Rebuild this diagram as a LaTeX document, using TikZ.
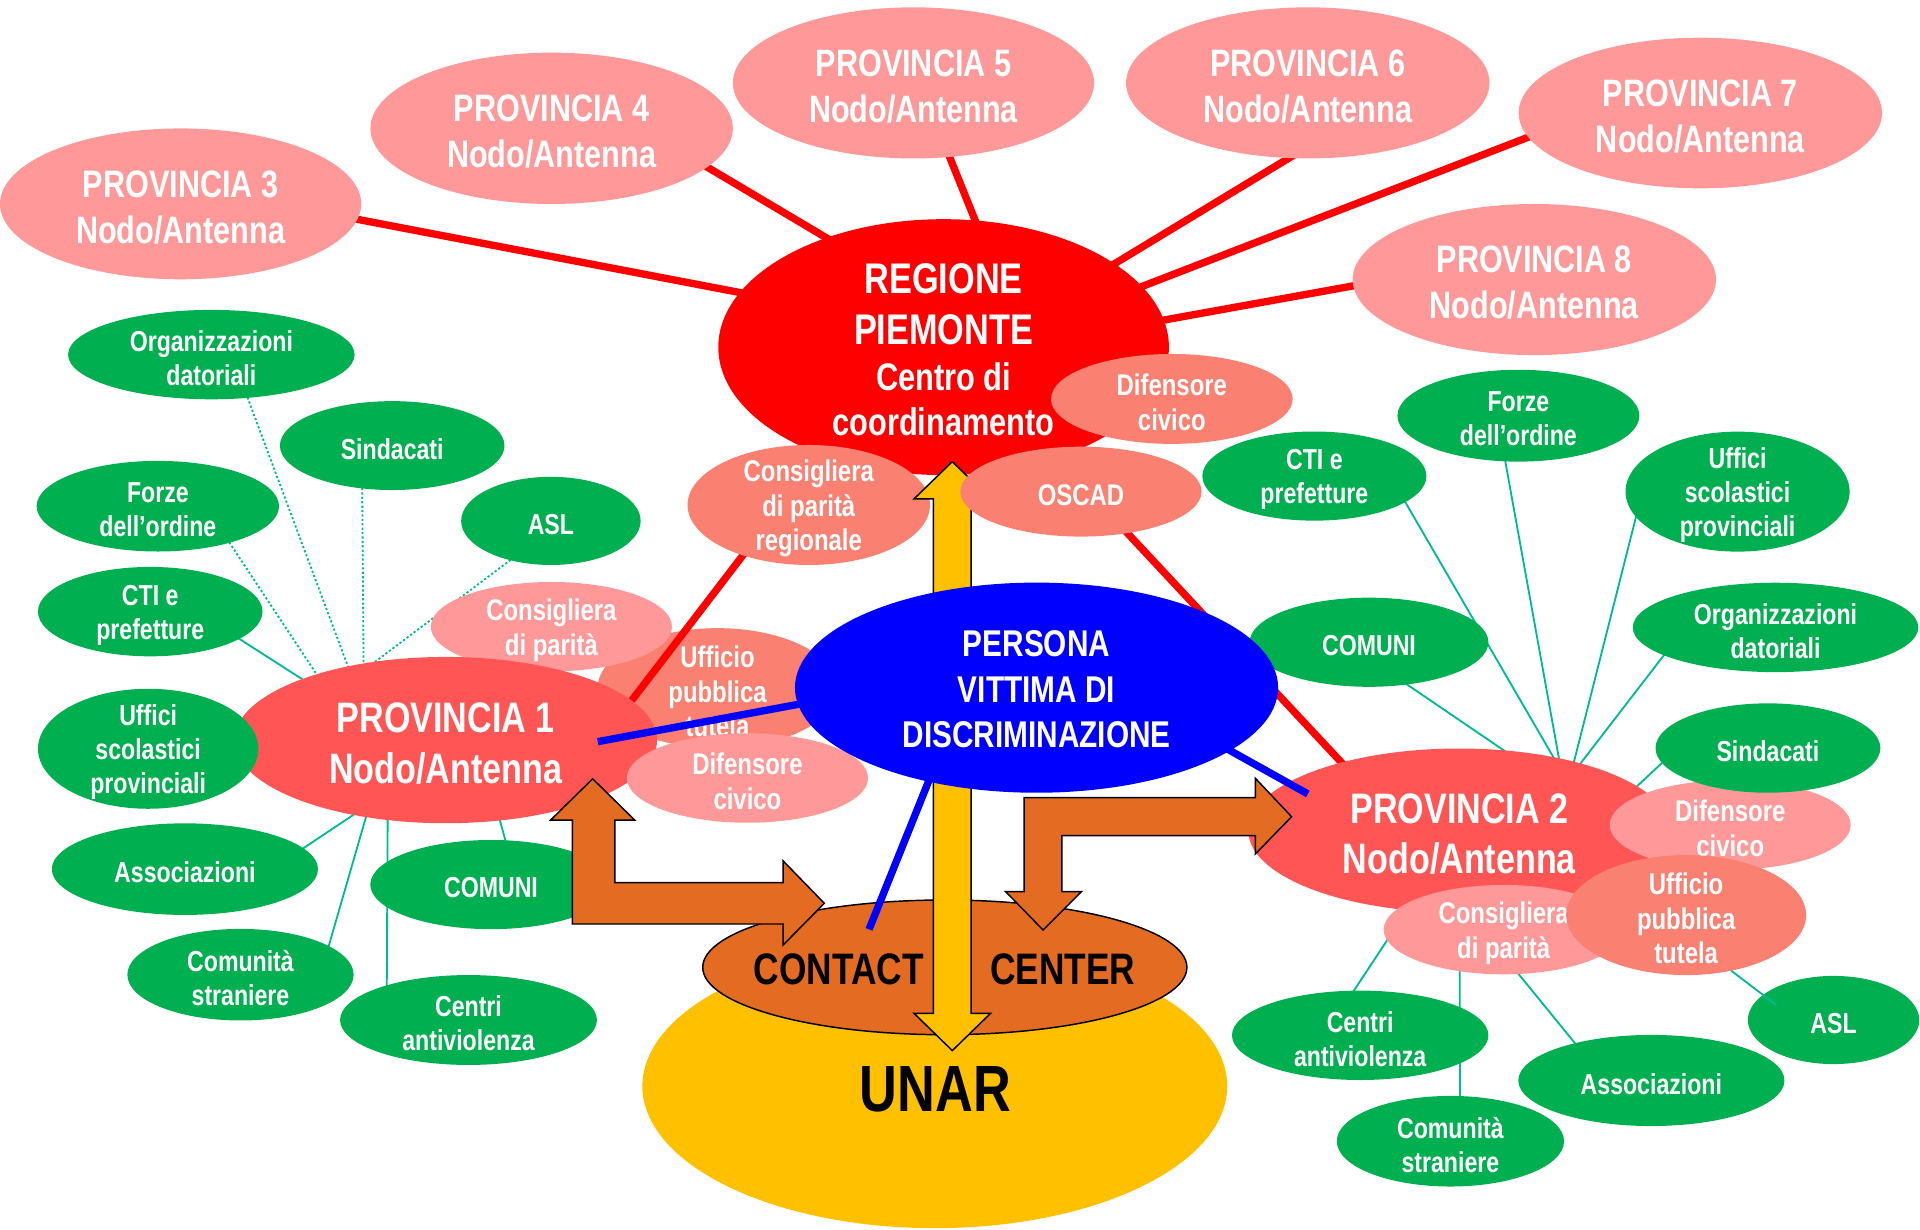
\documentclass[tikz,border=0pt]{standalone}
\usepackage{fontspec}
\newfontfamily\nf{Liberation Sans}[FakeStretch=0.8]
\usetikzlibrary{shapes.geometric,calc}
\pgfdeclarelayer{bottom}
\pgfdeclarelayer{back}
\pgfdeclarelayer{top}
\pgfsetlayers{bottom,back,main,top}
\definecolor{pk}{RGB}{255,153,153}
\definecolor{sa}{RGB}{250,128,114}
\definecolor{gn}{RGB}{0,176,80}
\definecolor{pr}{RGB}{255,85,85}
\definecolor{rg}{RGB}{255,0,0}
\definecolor{bl}{RGB}{0,0,255}
\definecolor{yl}{RGB}{255,192,0}
\definecolor{og}{RGB}{227,107,34}
\definecolor{tl}{RGB}{0,185,150}
\newcommand\fz[2]{\fontsize{#1}{#2}\selectfont}
\newcommand\FProv{\nf\bfseries\fz{15.6}{18.8}}
\newcommand\FBig{\nf\bfseries\fz{17.4}{20.7}}
\newcommand\FGr{\nf\bfseries\fz{11.8}{13.9}}
\newcommand\FSm{\nf\bfseries\fz{12.2}{14.1}}
\newcommand\ovn[8]{%
  \node[ov,#1,minimum width=#5pt,minimum height=#6pt] (#2) at (#3,#4) {};
  \node[lab,font=#7,yshift=-1.4pt] at (#2.center) {#8};}
\tikzset{
  ov/.style={ellipse,inner sep=0pt,outer sep=0pt},
  lab/.style={text=white,align=center,inner sep=0pt},
  pkf/.style={fill=pk}, saf/.style={fill=sa}, gnf/.style={fill=gn}, prf/.style={fill=pr},
  redline/.style={draw=rg,line width=3pt,shorten <=-5pt,shorten >=-5pt},
  blueline/.style={draw=bl,line width=3pt,shorten <=-5pt},
  gline/.style={draw=tl,line width=0.75pt,shorten <=-2pt,shorten >=-2pt},
  gdot/.style={gline,dash pattern=on 0.9pt off 0.9pt},
  blockarrow/.style={draw=black,line width=0.6pt,line join=miter},
}
\begin{document}
\begin{tikzpicture}[x=0.5pt,y=-0.5pt]
\useasboundingbox (0,0) rectangle (1568,1004);

% bottom-most: Ufficio pubblica tutela (P1 group)
\begin{pgfonlayer}{bottom}
\ovn{saf}{uptL}{586}{562}{98}{49}{\FSm}{Ufficio\\pubblica\\tutela}
\end{pgfonlayer}

% provinces 3..8
\ovn{pkf}{p3}{147.5}{166.5}{147.5}{61.6}{\FProv}{PROVINCIA 3\\Nodo/Antenna}
\ovn{pkf}{p4}{450.5}{104.8}{148}{61.8}{\FProv}{PROVINCIA 4\\Nodo/Antenna}
\ovn{pkf}{p5}{746}{67.7}{147.5}{61.7}{\FProv}{PROVINCIA 5\\Nodo/Antenna}
\ovn{pkf}{p6}{1068}{67.7}{148.4}{61.7}{\FProv}{PROVINCIA 6\\Nodo/Antenna}
\ovn{pkf}{p7}{1388.6}{92.3}{148.4}{61.5}{\FProv}{PROVINCIA 7\\Nodo/Antenna}
\ovn{pkf}{p8}{1253}{228.3}{148.4}{61.7}{\FProv}{PROVINCIA 8\\Nodo/Antenna}

% Regione
\node[ov,fill=rg,minimum width=184pt,minimum height=104.5pt] (reg) at (770.6,283.5) {};
\node[lab,font=\nf\bfseries\fz{17.5}{21}] (regt1) at (770.6,248.5) {REGIONE\\PIEMONTE};
\node[lab,font=\nf\bfseries\fz{15.7}{18.4}] (regt2) at (770.6,326) {Centro di\\coordinamento};
\ovn{saf}{difreg}{957}{325.8}{98.7}{36.7}{\FSm}{Difensore\\civico}
\ovn{saf}{consreg}{660.5}{412.4}{99}{49}{\FSm}{Consigliera\\di parità\\regionale}

% UNAR and contact center
\node[ov,fill=yl,minimum width=238.8pt,minimum height=116pt] (unar) at (763.4,887) {};
\node[font=\nf\bfseries\fz{26.7}{30},text=black,inner sep=0pt] (unart) at (764,889.5) {UNAR};
\node[ov,fill=og,draw=black,line width=0.6pt,minimum width=197.7pt,minimum height=55pt] (contact) at (771.6,790) {};
\node[font=\nf\bfseries\fz{18}{21},text=black,inner sep=0pt] (ct1) at (685,791.5) {CONTACT};
\node[font=\nf\bfseries\fz{18}{21},text=black,inner sep=0pt] (ct2) at (868,791.5) {CENTER};

% yellow double arrow
\draw[blockarrow,fill=yl] (777.7,377) -- (809,407.5) -- (793.1,407.5) -- (793.1,827.5) -- (809,827.5)
  -- (777.7,858) -- (746.4,827.5) -- (762.3,827.5) -- (762.3,407.5) -- (746.4,407.5) -- cycle;

\ovn{saf}{oscad}{882.8}{401.5}{98.5}{36.7}{\FSm}{OSCAD}

% right upper greens
\ovn{gnf}{ctiR}{1073.4}{388.8}{91.5}{36.4}{\FGr}{CTI e\\prefetture}
\ovn{gnf}{forzeR}{1240}{339.5}{98.8}{37.5}{\FGr}{Forze\\dell’ordine}
\ovn{gnf}{uffR}{1419}{401.5}{91.5}{49}{\FGr}{Uffici\\scolastici\\provinciali}
\ovn{gnf}{orgR}{1450}{512.4}{116.6}{36.5}{\FGr}{Organizzazioni\\datoriali}
\ovn{gnf}{comuniR}{1118}{524.5}{97.5}{36.4}{\FGr}{COMUNI}

% left group
\ovn{gnf}{orgL}{172.6}{289.6}{117}{36.5}{\FGr}{Organizzazioni\\datoriali}
\ovn{gnf}{sindL}{320.3}{363.9}{91.7}{36.3}{\FGr}{Sindacati}
\ovn{gnf}{forzeL}{128.9}{413.4}{99}{37}{\FGr}{Forze\\dell’ordine}
\ovn{gnf}{aslL}{449.9}{425.4}{73.3}{36}{\FGr}{ASL}
\ovn{gnf}{ctiL}{122.7}{499.5}{91.7}{36.5}{\FGr}{CTI e\\prefetture}
\ovn{pkf}{consL}{450.3}{511.8}{98.5}{36.5}{\FSm}{Consigliera\\di parità}
\ovn{prf}{p1}{364}{604.4}{172.6}{67.9}{\FBig}{PROVINCIA 1\\Nodo/Antenna}
\ovn{pkf}{difL}{610.4}{635.4}{98.5}{36.5}{\FSm}{Difensore\\civico}
\ovn{gnf}{uffL}{121}{611.5}{90}{49}{\FGr}{Uffici\\scolastici\\provinciali}
\ovn{gnf}{assocL}{151}{709.8}{108.7}{37.4}{\FGr}{Associazioni}
\ovn{gnf}{comuniL}{401}{722.4}{98.6}{36.4}{\FGr}{COMUNI}
\ovn{gnf}{comL}{196.4}{796}{92.4}{37.4}{\FGr}{Comunità\\straniere}
\ovn{gnf}{centriL}{382.6}{833}{104.9}{36.7}{\FGr}{Centri\\antiviolenza}

% right group
\ovn{prf}{p2}{1191.8}{678.3}{172.4}{67}{\FBig}{PROVINCIA 2\\Nodo/Antenna}
\ovn{pkf}{difR}{1413}{673.7}{98.4}{36.5}{\FSm}{Difensore\\civico}
\ovn{gnf}{sindR}{1443.8}{610.9}{91.8}{36.5}{\FGr}{Sindacati}
\ovn{pkf}{consR}{1228}{759.2}{98}{36.5}{\FSm}{Consigliera\\di parità}
\ovn{saf}{uptR}{1377}{747.3}{98}{49}{\FSm}{Ufficio\\pubblica\\tutela}
\ovn{gnf}{centriR}{1110.8}{845.5}{104.7}{36.5}{\FGr}{Centri\\antiviolenza}
\ovn{gnf}{comR}{1184.5}{932}{92.8}{37}{\FGr}{Comunità\\straniere}
\ovn{gnf}{assocR}{1348.6}{882.4}{108.7}{37.2}{\FGr}{Associazioni}
\ovn{gnf}{aslR}{1497.4}{833}{70}{36}{\FGr}{ASL}
\draw[draw=tl,line width=0.75pt] (uptR.-51.6) -- ($(aslR.center)+(-46.8,-12.3)$);

% orange block arrows
\draw[blockarrow,fill=og] (484,636) -- (518.4,669.8) -- (502.1,669.8) -- (502.1,720.8) -- (639.5,720.8)
  -- (639.5,703) -- (673.2,737.7) -- (639.5,771.8) -- (639.5,754.6) -- (467.4,754.6) -- (467.4,669.8)
  -- (449.6,669.8) -- cycle;
\draw[blockarrow,fill=og] (836.3,651.4) -- (1025.2,651.4) -- (1025.2,635.6) -- (1054.8,667)
  -- (1025.2,697.4) -- (1025.2,682.5) -- (867.2,682.5) -- (867.2,728.2) -- (883.2,728.2)
  -- (851.8,759.5) -- (821.3,728.2) -- (836.3,728.2) -- cycle;

% persona (top layer)
\begin{pgfonlayer}{top}
\node[ov,fill=bl,minimum width=197.3pt,minimum height=85.8pt] (persona) at (846.5,561.6) {};
\node[lab,font=\nf\bfseries\fz{15.2}{18.5}] (perst) at (846.5,563) {PERSONA\\VITTIMA DI\\DISCRIMINAZIONE};
\end{pgfonlayer}

% blue connectors
\coordinate (b1) at (488.2,605.7);
\coordinate (b2) at (1068.1,648.4);
\coordinate (b3) at (709.7,759);
\draw[blueline] (persona.184) -- (b1);
\draw[blueline] (persona.-18) -- (b2);
\draw[blueline] (persona.-139) -- (b3);

% background connectors
\begin{pgfonlayer}{back}
\draw[redline] (p3.-5.4) -- (reg.165);
\draw[redline] (p4.-14.6) -- (reg.137.6);
\draw[redline] (p5.-64.7) -- (reg.76.8);
\draw[redline] (p6.-104.6) -- (reg.26.3);
\draw[redline] (p7.-172.2) -- (reg.17.6);
\draw[redline] (p8.-178.3) -- (reg.7.2);
\draw[redline] (p1.12.3) -- ($(reg.center)+(-46,16)$);
\draw[redline] (p2.150.5) -- ($(reg.center)+(23.7,16.5)$);
\draw[gdot] (orgL.-50.3) -- (p1.143.7);
\draw[gdot] (sindL.-125.8) -- (p1.137.6);
\draw[gdot] (forzeL.-27.1) -- (p1.153.1);
\draw[gdot] (aslL.-136.5) -- (p1.132.2);
\draw[gline] (ctiL.-17.8) -- (p1.157.9);
\draw[gline] (assocL.10.6) -- (p1.-141.8);
\draw[gline] (comL.18.6) -- (p1.-136.2);
\draw[gline] (centriL.157.1) -- (p1.-126.9);
\draw[gline] (comuniL.72) -- (p1.-56);
\draw[gline] (forzeR.-106.9) -- (p2.36.3);
\draw[gline] (ctiR.-16.6) -- (p2.38);
\draw[gline] (uffR.-166.5) -- (p2.31.4);
\draw[gline] (comuniR.-48) -- (p2.61.4);
\draw[gline] (orgR.-166.8) -- (p2.29.2);
\draw[gline] (sindR.-172.3) -- (p2.14.8);
\draw[gline] (centriR.98) -- (p2.center);
\draw[gline] (comR.78.8) -- (p2.center);
\draw[gline] (assocR.154.2) -- ($(p2.center)+(-47,0)$);
\end{pgfonlayer}
\end{tikzpicture}
\end{document}
